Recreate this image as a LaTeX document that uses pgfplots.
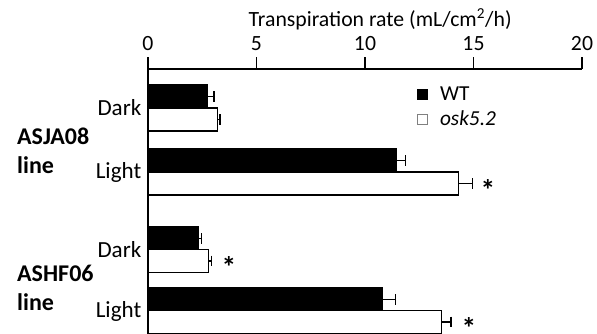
\documentclass[border=0pt]{standalone}
\usepackage{pgfplots}
\pgfplotsset{compat=1.18}
\usepackage{fontspec}
\setmainfont{Carlito}

\pgfplotstableread{
y     v      e
96.5  2.75   0.29
160.5 11.43  0.43
238.5 2.32   0.15
299.5 10.80  0.61
}\wt
\pgfplotstableread{
y     v      e
119.5 3.19   0.13
183.5 14.30  0.64
261.0 2.80   0.14
322.0 13.53  0.43
}\osk

\begin{document}
\begin{tikzpicture}
\begin{axis}[
  scale only axis,
  width=325.5pt, height=198.375pt,
  xmin=0, xmax=20,
  ymin=69, ymax=333.5,
  y dir=reverse,
  clip=false,
  axis x line=top,
  axis y line=left,
  axis line style={-, line width=1.1pt},
  xtick={0,5,10,15,20},
  tick align=outside,
  major tick length=9pt,
  x tick style={line width=1.1pt, black},
  ytick={108,172,250,311},
  yticklabels={Dark,Light,Dark,Light},
  y tick style={draw=none},
  tick label style={font=\fontsize{16.3}{19}\selectfont},
  xticklabel style={yshift=1.5pt},
  yticklabel style={font=\fontsize{17.3}{20}\selectfont, xshift=7.5pt},
  /pgf/number format/assume math mode=true,
  legend style={draw=none, fill=none, at={(axis cs:12.4,85)}, anchor=north west,
    font=\fontsize{16}{19}\selectfont, inner sep=0pt, row sep=4.5pt, column sep=7pt,
    nodes={inner xsep=2pt, inner ysep=1pt}},
  legend cell align=left,
]
\addplot[forget plot, xbar, bar width=23, fill=black, draw=black, line width=0.9pt,
  error bars/.cd, x dir=plus, x explicit, error mark=|,
  error bar style={line width=1pt, black},
  error mark options={line width=1pt, mark size=4pt, black}]
  table[x=v, y=y, x error=e]{\wt};
\addplot[forget plot, xbar, bar width=23, fill=white, draw=black, line width=0.9pt,
  error bars/.cd, x dir=plus, x explicit, error mark=|,
  error bar style={line width=1pt, black},
  error mark options={line width=1pt, mark size=4pt, black}]
  table[x=v, y=y, x error=e]{\osk};
\addlegendimage{legend image code/.code={\draw[fill=black, draw=black, line width=0.5pt] (0pt,-3.75pt) rectangle (7.5pt,3.75pt);}}
\addlegendimage{legend image code/.code={\draw[fill=white, draw=gray, line width=0.5pt] (0pt,-3.75pt) rectangle (7.5pt,3.75pt);}}
\legend{WT, \textit{osk5.2}}

\node[font=\fontsize{16.3}{19}\selectfont] at (axis cs:10.7,19) {Transpiration rate (mL/cm\textsuperscript{2}/h)};

\node[anchor=west, inner sep=0pt, font=\bfseries\fontsize{18}{21}\selectfont] at (axis cs:-6.04,136) {ASJA08};
\node[anchor=west, inner sep=0pt, font=\bfseries\fontsize{18}{21}\selectfont] at (axis cs:-6.04,165) {line};
\node[anchor=west, inner sep=0pt, font=\bfseries\fontsize{18}{21}\selectfont] at (axis cs:-6.04,273) {ASHF06};
\node[anchor=west, inner sep=0pt, font=\bfseries\fontsize{18}{21}\selectfont] at (axis cs:-6.04,302) {line};

\node[inner sep=0pt, font=\bfseries\fontsize{22}{24}\selectfont] at (axis cs:15.67,190) {*};
\node[inner sep=0pt, font=\bfseries\fontsize{22}{24}\selectfont] at (axis cs:3.73,267) {*};
\node[inner sep=0pt, font=\bfseries\fontsize{22}{24}\selectfont] at (axis cs:14.79,328) {*};
\end{axis}
\pgfresetboundingbox
\path[use as bounding box] ([xshift=-111pt, yshift=0.375pt]current axis.south west) rectangle ([xshift=11.25pt, yshift=51.75pt]current axis.north east);
\end{tikzpicture}
\end{document}
